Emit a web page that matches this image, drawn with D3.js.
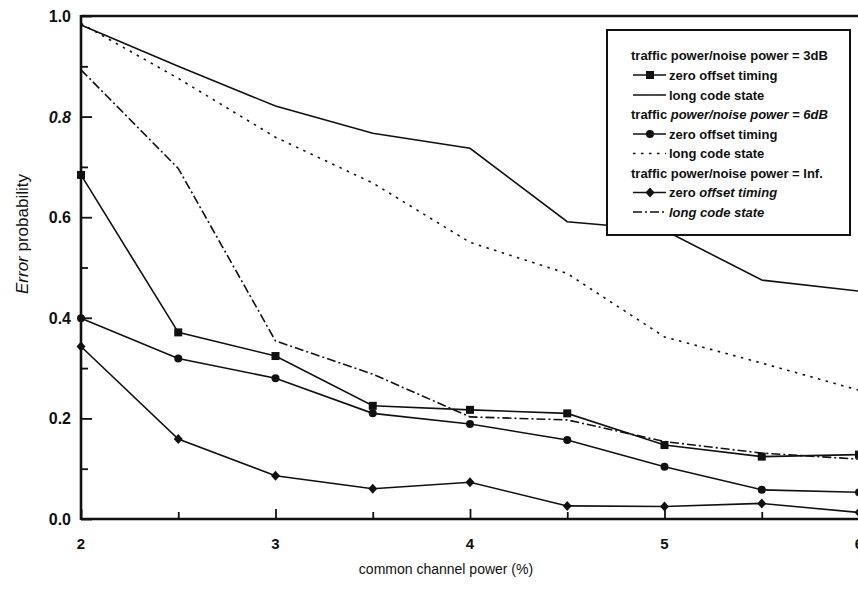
<!DOCTYPE html>
<html>
<head>
<meta charset="utf-8">
<script src="https://cdn.jsdelivr.net/npm/d3@7"></script>
<style>
  html, body { margin: 0; padding: 0; background: #fff; }
  svg { display: block; font-family: "Liberation Sans", Arial, sans-serif; }
</style>
</head>
<body>
<svg id="chart" width="858" height="590"></svg>
<script>
// ---- data ----
const powerPct = [2, 2.5, 3, 3.5, 4, 4.5, 5, 5.5, 6];
const zero3dB   = [0.684, 0.371, 0.324, 0.225, 0.217, 0.210, 0.147, 0.124, 0.128];
const long3dB   = [0.982, 0.900, 0.821, 0.767, 0.737, 0.591, 0.574, 0.475, 0.453];
const zero6dB   = [0.399, 0.319, 0.280, 0.210, 0.189, 0.157, 0.104, 0.058, 0.053];
const long6dB   = [0.985, 0.876, 0.759, 0.668, 0.550, 0.488, 0.362, 0.310, 0.256];
const zeroInf   = [0.343, 0.159, 0.086, 0.060, 0.073, 0.026, 0.025, 0.031, 0.013];
const longInf   = [0.893, 0.697, 0.354, 0.288, 0.203, 0.197, 0.154, 0.131, 0.119];
const xTickLabels = [2, 3, 4, 5, 6];
const yTickLabels = [0.0, 0.2, 0.4, 0.6, 0.8, 1.0];
const legendHeaders = ["traffic power/noise power = 3dB", "traffic power/noise power = 6dB", "traffic power/noise power = Inf."];
const legendItems = ["zero offset timing", "long code state"];

const series = [
  { values: zero3dB, dash: null, marker: "square" },
  { values: long3dB, dash: null, marker: null },
  { values: zero6dB, dash: null, marker: "circle" },
  { values: long6dB, dash: "2.5,5.5", marker: null },
  { values: zeroInf, dash: null, marker: "diamond" },
  { values: longInf, dash: "9,3,2,3", marker: null }
];

// ---- layout ----
const svg = d3.select("#chart");
const plotL = 81, plotR = 859, plotT = 16, plotB = 519;
const x = d3.scaleLinear().domain([2, 6]).range([plotL, plotR]);
const y = d3.scaleLinear().domain([0, 1]).range([plotB, plotT]);
const ink = "#111";

svg.append("rect").attr("width", 858).attr("height", 590).attr("fill", "#fff");

// axes (ticks inward)
const xMajor = d3.axisBottom(x).tickValues(xTickLabels).tickSize(-10).tickFormat("");
const xMinor = d3.axisBottom(x).tickValues([2.5, 3.5, 4.5, 5.5]).tickSize(-7).tickFormat("");
const yMajor = d3.axisLeft(y).tickValues(yTickLabels).tickSize(-11).tickFormat("");
const yMinor = d3.axisLeft(y).tickValues([0.1, 0.3, 0.5, 0.7, 0.9]).tickSize(-7).tickFormat("");

function styleAxis(g) {
  g.selectAll(".domain").remove();
  g.selectAll("line").attr("stroke", ink).attr("stroke-width", 1.8);
}
svg.append("g").attr("transform", `translate(0,${plotB})`).call(xMajor).call(styleAxis);
svg.append("g").attr("transform", `translate(0,${plotB})`).call(xMinor).call(styleAxis);
svg.append("g").attr("transform", `translate(${plotL},0)`).call(yMajor).call(styleAxis);
svg.append("g").attr("transform", `translate(${plotL},0)`).call(yMinor).call(styleAxis);

// frame
svg.append("line").attr("x1", plotL).attr("x2", 860).attr("y1", plotT).attr("y2", plotT)
  .attr("stroke", ink).attr("stroke-width", 2.6);
svg.append("line").attr("x1", plotL).attr("x2", plotL).attr("y1", plotT - 1).attr("y2", plotB + 1)
  .attr("stroke", ink).attr("stroke-width", 2.6);
svg.append("line").attr("x1", plotL).attr("x2", 860).attr("y1", plotB).attr("y2", plotB)
  .attr("stroke", ink).attr("stroke-width", 2.4);

// tick labels
svg.append("g").selectAll("text").data(xTickLabels).join("text")
  .attr("x", d => x(d)).attr("y", 549)
  .attr("text-anchor", "middle").attr("font-size", 15).attr("font-weight", "bold")
  .attr("fill", ink).text(d => d);
svg.append("g").selectAll("text").data(yTickLabels).join("text")
  .attr("x", 71).attr("y", d => y(d) + 6)
  .attr("text-anchor", "end").attr("font-size", 16).attr("font-weight", "bold")
  .attr("font-style", d => d === 0.8 ? "italic" : "normal")
  .attr("fill", ink).text(d => d.toFixed(1));

// axis titles
svg.append("text").attr("x", 446).attr("y", 574).attr("text-anchor", "middle")
  .attr("font-size", 14).attr("fill", ink).text("common channel power (%)");
const yt = svg.append("text").attr("transform", "translate(28,234) rotate(-90)")
  .attr("text-anchor", "middle").attr("font-size", 17).attr("fill", ink);
yt.append("tspan").attr("font-style", "italic").text("Error");
yt.append("tspan").text(" probability");

// lines
const line = d3.line().x((d, i) => x(powerPct[i])).y(d => y(d));
const plot = svg.append("g");
series.forEach(s => {
  plot.append("path").datum(s.values).attr("d", line)
    .attr("fill", "none").attr("stroke", ink).attr("stroke-width", 1.6)
    .attr("stroke-dasharray", s.dash);
});

function drawMarker(g, type, cx, cy) {
  if (type === "square") {
    g.append("rect").attr("x", cx - 4).attr("y", cy - 4).attr("width", 8).attr("height", 8).attr("fill", ink);
  } else if (type === "circle") {
    g.append("circle").attr("cx", cx).attr("cy", cy).attr("r", 4).attr("fill", ink);
  } else if (type === "diamond") {
    g.append("path").attr("d", `M${cx},${cy - 5}L${cx + 4.5},${cy}L${cx},${cy + 5}L${cx - 4.5},${cy}Z`).attr("fill", ink);
  }
}
series.forEach(s => {
  if (!s.marker) return;
  s.values.forEach((v, i) => drawMarker(plot, s.marker, x(powerPct[i]), y(v)));
});

// legend
const lg = svg.append("g");
lg.append("rect").attr("x", 607).attr("y", 30).attr("width", 243).attr("height", 205)
  .attr("fill", "#fff").attr("stroke", ink).attr("stroke-width", 2);
const rowY = [55, 75, 95, 114.5, 134, 153.5, 173, 192.5, 212];
for (let g = 0; g < 3; g++) {
  const hy = rowY[g * 3];
  const ht = lg.append("text").attr("x", 631).attr("y", hy + 4.5)
    .attr("font-size", 13).attr("font-weight", "bold").attr("fill", ink);
  if (g === 1) {
    ht.append("tspan").text("traffic ");
    ht.append("tspan").attr("font-style", "italic").text(legendHeaders[g].slice(8));
  } else {
    ht.text(legendHeaders[g]);
  }
  for (let k = 0; k < 2; k++) {
    const s = series[g * 2 + k];
    const ry = rowY[g * 3 + 1 + k];
    lg.append("line").attr("x1", 633).attr("x2", 666).attr("y1", ry).attr("y2", ry)
      .attr("stroke", ink).attr("stroke-width", 1.6).attr("stroke-dasharray", s.dash);
    if (s.marker) drawMarker(lg, s.marker, 650, ry);
    const it = lg.append("text").attr("x", 669).attr("y", ry + 4.5)
      .attr("font-size", 13).attr("font-weight", "bold").attr("fill", ink);
    if (g === 2 && k === 1) {
      it.attr("font-style", "italic").text(legendItems[k]);
    } else if (g === 2 && k === 0) {
      it.append("tspan").text("zero ");
      it.append("tspan").attr("font-style", "italic").text("offset timing");
    } else {
      it.text(legendItems[k]);
    }
  }
}
</script>
</body>
</html>
